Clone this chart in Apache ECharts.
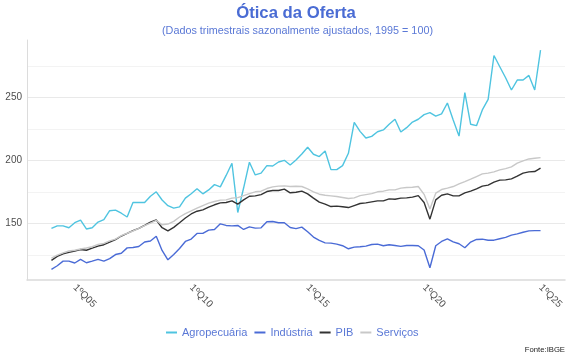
<!DOCTYPE html>
<html>
<head>
<meta charset="utf-8">
<script src="https://cdn.jsdelivr.net/npm/echarts@6/dist/echarts.min.js"></script>
<style>html,body{margin:0;padding:0;background:#fff}#c{width:570px;height:360px}</style>
</head>
<body>
<div id="c"></div>
<script>
// Quarters 1ºQ04 .. 1ºQ25
const startYear = 2004;
const categories = [];
for (let y = startYear; y <= 2025; y++) {
  for (let q = 1; q <= 4; q++) {
    if (y === 2025 && q > 1) break;
    categories.push(q + 'ºQ' + String(y).slice(2));
  }
}
const tickLabels = ['1ºQ05', '1ºQ10', '1ºQ15', '1ºQ20', '1ºQ25'];
const yLabelValues = [150, 200, 250];
const yGridValues = [125, 150, 175, 200, 225, 250, 275];

const agropecuaria = [146, 148, 148, 146.5, 150.5, 152.5, 145.5, 146.5, 151, 153,
  160, 160.5, 158, 155, 166.5, 166.5, 166.5, 171.5, 175, 168.5,
  164, 162, 163, 170, 173.5, 177.5, 173.4, 176.5, 180.7, 178.9,
  188, 197.7, 158.6, 178, 198.5, 188.4, 189.8, 195.8, 195.5, 198.7,
  200, 196.3, 200.3, 205, 210.4, 204.8, 203, 207.4, 192.6, 192.6,
  195.8, 205.6, 230.2, 223, 217.7, 219, 222.7, 224.1, 228.6, 232.6,
  222.5, 225.9, 230.4, 232.6, 236.3, 237.9, 235.1, 236.9, 245.5, 232,
  219.2, 253.7, 228.6, 227.5, 240, 248.4, 283.2, 274.3, 265.5, 255.8,
  263.7, 263.7, 267.4, 255.8, 287.5];
const industria = [113.5, 116.3, 120, 120, 118.5, 121.3, 118.7, 120, 121.4, 120,
  122, 125.2, 126.2, 130.5, 130.8, 131.6, 135.2, 136, 139.7, 128.5,
  121, 125.3, 130, 135.6, 137.5, 142, 142, 144.6, 145.1, 149.6,
  148.3, 148, 148.3, 145.1, 147.2, 146.2, 146.4, 151.2, 151.4, 150.4,
  150.4, 146.7, 145.8, 147, 143.3, 139.1, 136.4, 134.5, 134.3, 133.5,
  132.2, 129.8, 131.1, 131.4, 131.9, 133.2, 133.5, 132.2, 133, 132.4,
  131.7, 132.4, 132.4, 132.2, 128.8, 114.7, 132.2, 135.6, 137.7, 135.3,
  133.8, 130.6, 135.1, 137.2, 137.4, 136.6, 136.6, 137.7, 138.8, 140.6,
  141.6, 142.9, 144, 144.2, 144.2];
const pib = [120.6, 123.8, 125.8, 126.9, 128, 129.2, 128.6, 130.3, 131.9, 133,
  135, 137, 139.9, 142, 144.2, 146, 148.4, 151, 152.6, 146.5,
  144, 146.8, 150.4, 154.2, 157.4, 159.6, 160.7, 162.8, 164.7, 166.2,
  166.5, 167.8, 165.2, 168.6, 171.5, 171.8, 172.8, 175.2, 176, 176,
  177.1, 174.2, 174.7, 175.5, 173.4, 170, 166.8, 165.2, 163.3, 163.6,
  163.1, 162.5, 164.1, 165.7, 166.2, 167, 167.8, 167.8, 169.4, 169.1,
  170, 170.2, 170.8, 172, 166.5, 153.3, 168.6, 172.3, 173.4, 171.8,
  171.8, 174.2, 175.5, 177.3, 179.5, 180.3, 182.7, 184.3, 184.5, 185.3,
  187.4, 189.8, 190.8, 191.1, 193.8];
const servicos = [122.3, 124.7, 126.5, 128, 128.6, 129.6, 130.4, 131.4, 133.3, 134.1,
  136, 137.5, 140.2, 142.1, 143.9, 146, 148.1, 150.2, 152.3, 148.8,
  149.4, 151.5, 155, 157.7, 159.8, 162, 164.1, 166, 167.3, 168.4,
  168.6, 170, 170.4, 172, 173.6, 175, 175.5, 177.6, 178.9, 179.5,
  179.7, 179.2, 179.4, 179.2, 177.3, 175, 173.1, 172.3, 171.8, 171.3,
  170.5, 169.7, 170.2, 172, 172.8, 173.6, 175, 175.5, 176.5, 176.5,
  177.9, 178.4, 178.6, 179.2, 173, 161.3, 173.9, 176.8, 177.9, 179.2,
  181.3, 183.1, 185, 187.1, 189.2, 189.8, 190.8, 192.4, 193.4, 194.8,
  197.7, 199.5, 201.1, 201.6, 202.1];

const seriesNames = ['Agropecuária', 'Indústria', 'PIB', 'Serviços'];
const seriesValues = [agropecuaria, industria, pib, servicos];
const seriesColors = ['#4fc4e0', '#4a6bd6', '#333333', '#c8c8c8'];

const FONT = '"Liberation Sans", Arial, Helvetica, sans-serif';
const BLUE = '#4a6cd4';
const LEGEND_BLUE = '#5a78d6';
const tickIdx = tickLabels.map(t => categories.indexOf(t));

const chart = echarts.init(document.getElementById('c'), null, {renderer: 'canvas'});
chart.setOption({
  animation: false,
  backgroundColor: '#ffffff',
  textStyle: {fontFamily: FONT},
  grid: {left: 27, right: 5, top: 40, bottom: 80, containLabel: false},
  xAxis: {
    type: 'value',
    min: -4.2,
    max: 88.2,
    axisLine: {show: true, onZero: false, lineStyle: {color: '#dadada', width: 1.5}},
    axisTick: {show: false},
    splitLine: {show: false},
    axisLabel: {
      customValues: tickIdx,
      rotate: -45,
      margin: 6,
      fontSize: 10,
      color: '#4d4d4d',
      fontFamily: FONT,
      formatter: v => categories[Math.round(v)]
    }
  },
  yAxis: {
    type: 'value',
    min: 105,
    max: 295.5,
    axisLine: {show: true, onZero: false, lineStyle: {color: '#dcdcdc', width: 1}},
    axisTick: {show: false, customValues: yGridValues},
    axisLabel: {customValues: yLabelValues, fontSize: 10, color: '#4d4d4d', margin: 5, fontFamily: FONT},
    splitLine: {show: true, lineStyle: {color: ['#f3f3f3', '#e9e9e9'], width: 1}}
  },
  legend: {
    data: seriesNames,
    left: 166,
    top: 327,
    padding: 0,
    icon: 'rect',
    itemWidth: 11,
    itemHeight: 2,
    itemGap: 7,
    textStyle: {color: LEGEND_BLUE, fontSize: 11, fontFamily: FONT}
  },
  graphic: [
    {type: 'text', x: 296, y: 13, style: {text: 'Ótica da Oferta', fill: BLUE, font: 'bold 16.7px ' + FONT, textAlign: 'center', textVerticalAlign: 'middle'}},
    {type: 'text', x: 297.5, y: 31, style: {text: '(Dados trimestrais sazonalmente ajustados, 1995 = 100)', fill: LEGEND_BLUE, font: '10.8px ' + FONT, textAlign: 'center', textVerticalAlign: 'middle'}},
    {type: 'text', x: 565, y: 350, style: {text: 'Fonte:IBGE', fill: '#1a1a1a', font: '7.7px ' + FONT, textAlign: 'right', textVerticalAlign: 'middle'}}
  ],
  series: seriesNames.map((name, k) => ({
    name: name,
    type: 'line',
    showSymbol: false,
    symbol: 'none',
    color: seriesColors[k],
    lineStyle: {width: 1.4, color: seriesColors[k]},
    data: categories.map((c, i) => [i, seriesValues[k][i]])
  }))
});
</script>
</body>
</html>
